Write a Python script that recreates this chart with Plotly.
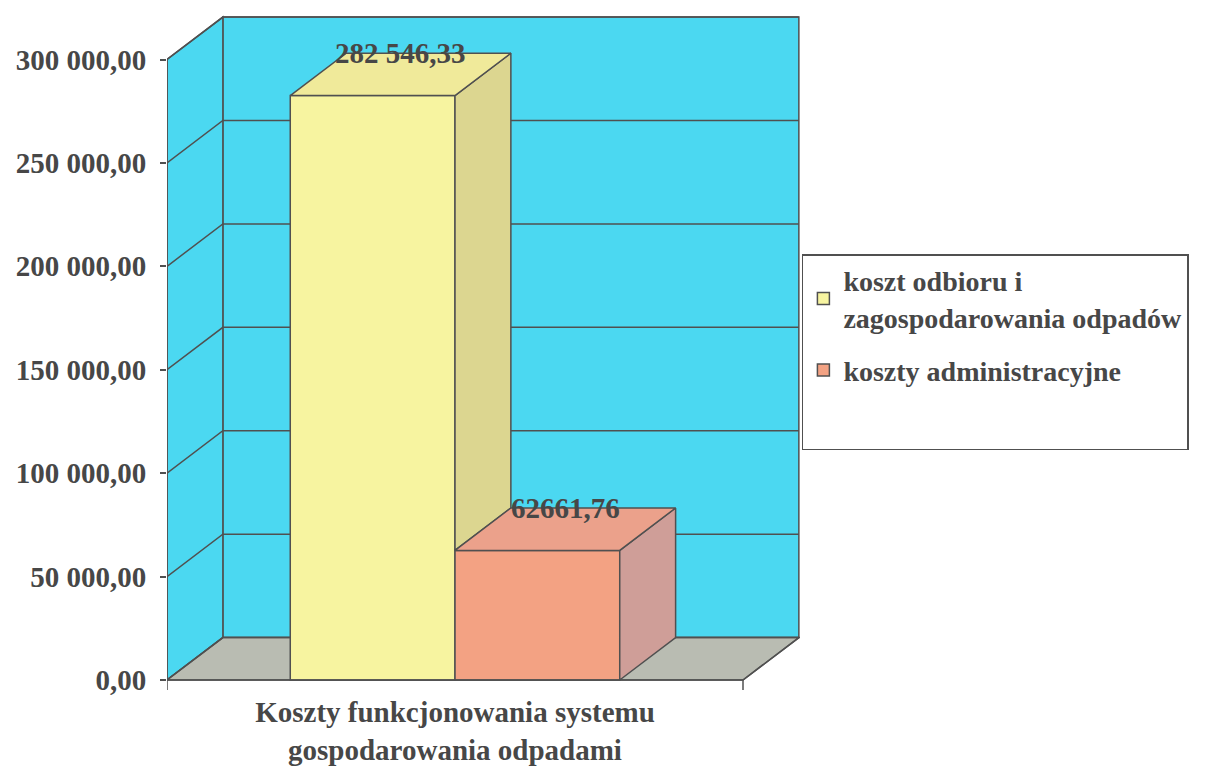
import plotly.graph_objects as go

# ---- data ----
category = "Koszty funkcjonowania systemu<br>gospodarowania odpadami"
series_names = ["koszt odbioru i<br>zagospodarowania odpadów", "koszty administracyjne"]
series_values = [282546.33, 62661.76]
value_labels = ["282 546,33", "62661,76"]
y_tick_values = [0, 50000, 100000, 150000, 200000, 250000, 300000]
y_tick_labels = ["0,00", "50 000,00", "100 000,00", "150 000,00", "200 000,00", "250 000,00", "300 000,00"]

# ---- style ----
front_colors = ["#f7f4a0", "#f3a283"]
top_colors = ["#f0ea9a", "#eba18b"]
side_colors = ["#dcd690", "#cf9e98"]
wall_color = "#4bd8f1"
floor_color = "#b9bcb2"
edge = "#505050"
txt = "#474747"
FONT = "Liberation Serif"

DX = 0.097      # depth offset (x units)
DY = 20500      # depth offset (y units)
BARGAP = 0.428
XMIN, XMAX = -0.5, -0.5 + 633 / 576
UPP = 300000 / (680 - 59.5)
YMAX = (680 - 10) * UPP
YMIN = -(692 - 680) * UPP
TOPV = max(y_tick_values)

n = len(series_values)
w = (1 - BARGAP) / n
centers = [(i - (n - 1) / 2) * w for i in range(n)]

fig = go.Figure()

# front faces as bars
for i in range(n):
    fig.add_trace(go.Bar(
        x=[0], y=[series_values[i]], name=series_names[i], legendgroup=f"g{i}",
        marker=dict(color=front_colors[i], line=dict(color=edge, width=1.5)),
        hoverinfo="skip",
    ))

# legend spacer (keeps empty room at the bottom of the legend box)
fig.add_trace(go.Scatter(x=[None], y=[None], mode="none", name=" ",
                         legendgroup="spacer", showlegend=True, hoverinfo="skip"))

# side and top faces
for i in range(n):
    v = series_values[i]
    x0 = centers[i] - w / 2
    x1 = centers[i] + w / 2
    nxt = series_values[i + 1] if i + 1 < n else 0
    bottom = min(nxt, v)
    fig.add_trace(go.Scatter(
        x=[x1, x1 + DX, x1 + DX, x1, x1],
        y=[v, v + DY, bottom + DY, bottom, v],
        fill="toself", fillcolor=side_colors[i], mode="lines",
        line=dict(color=edge, width=1.5), showlegend=False, hoverinfo="skip"))
    fig.add_trace(go.Scatter(
        x=[x0, x1, x1 + DX, x0 + DX, x0],
        y=[v, v, v + DY, v + DY, v],
        fill="toself", fillcolor=top_colors[i], mode="lines",
        line=dict(color=edge, width=1.5), showlegend=False, hoverinfo="skip"))

shapes = []
# back wall
shapes.append(dict(type="path", layer="below",
                   path=f"M{XMIN+DX},{DY} L{XMIN+DX},{TOPV+DY} L{0.5+DX},{TOPV+DY} L{0.5+DX},{DY} Z",
                   fillcolor=wall_color, line=dict(color=edge, width=1.5)))
# side wall
shapes.append(dict(type="path", layer="below",
                   path=f"M{XMIN},0 L{XMIN},{TOPV} L{XMIN+DX},{TOPV+DY} L{XMIN+DX},{DY} Z",
                   fillcolor=wall_color, line=dict(color=edge, width=1.5)))
# floor
shapes.append(dict(type="path", layer="below",
                   path=f"M{XMIN},0 L{XMIN+DX},{DY} L{0.5+DX},{DY} L{0.5},0 Z",
                   fillcolor=floor_color, line=dict(color=edge, width=1.5)))
# gridlines
for v in y_tick_values:
    shapes.append(dict(type="path", layer="below",
                       path=f"M{XMIN},{v} L{XMIN+DX},{v+DY} L{0.5+DX},{v+DY}",
                       line=dict(color=edge, width=1.5)))
# axis lines
shapes.append(dict(type="line", layer="above", x0=XMIN, x1=XMIN, y0=0, y1=TOPV,
                   line=dict(color=edge, width=1.5)))
shapes.append(dict(type="line", layer="above", x0=XMIN, x1=0.5, y0=0, y1=0,
                   line=dict(color=edge, width=1.5)))
shapes.append(dict(type="line", layer="above", x0=0.5, x1=0.5 + DX, y0=0, y1=DY,
                   line=dict(color=edge, width=1.5)))
for xv in [XMIN, 0.5]:
    shapes.append(dict(type="line", layer="above", x0=xv, x1=xv, y0=0, y1=-10 * UPP,
                       line=dict(color=edge, width=1.5)))

annotations = []
for i in range(n):
    annotations.append(dict(x=centers[i] + DX / 2, y=series_values[i] + DY,
                            text=value_labels[i], showarrow=False,
                            font=dict(family=FONT, size=29, color=txt, weight="bold"),
                            xanchor="center", yanchor="middle"))

# page body has an 8px margin, so the figure is 8px smaller and shifted accordingly
fig.update_layout(
    width=1197, height=770,
    margin=dict(l=159, r=405, t=2, b=86),
    paper_bgcolor="white", plot_bgcolor="white",
    barmode="group", bargap=BARGAP,
    shapes=shapes, annotations=annotations,
    showlegend=True,
    legend=dict(x=1.003, y=(684 - 246) / 682, xanchor="left", yanchor="top",
                bgcolor="white", bordercolor=edge, borderwidth=1.5,
                font=dict(family=FONT, size=28, color=txt, weight="bold"),
                traceorder="grouped", tracegroupgap=14),
    xaxis=dict(range=[XMIN, XMAX], tickvals=[0], ticktext=[category],
               showgrid=False, zeroline=False, showline=False, ticks="",
               tickfont=dict(family=FONT, size=29, color=txt, weight="bold")),
    yaxis=dict(range=[YMIN, YMAX], tickvals=y_tick_values, ticktext=y_tick_labels,
               showgrid=False, zeroline=False, showline=False,
               ticks="outside", ticklen=6, tickwidth=1.5, tickcolor=edge,
               ticklabelstandoff=8,
               tickfont=dict(family=FONT, size=29, color=txt, weight="bold")),
)

fig.write_html("out.html")
